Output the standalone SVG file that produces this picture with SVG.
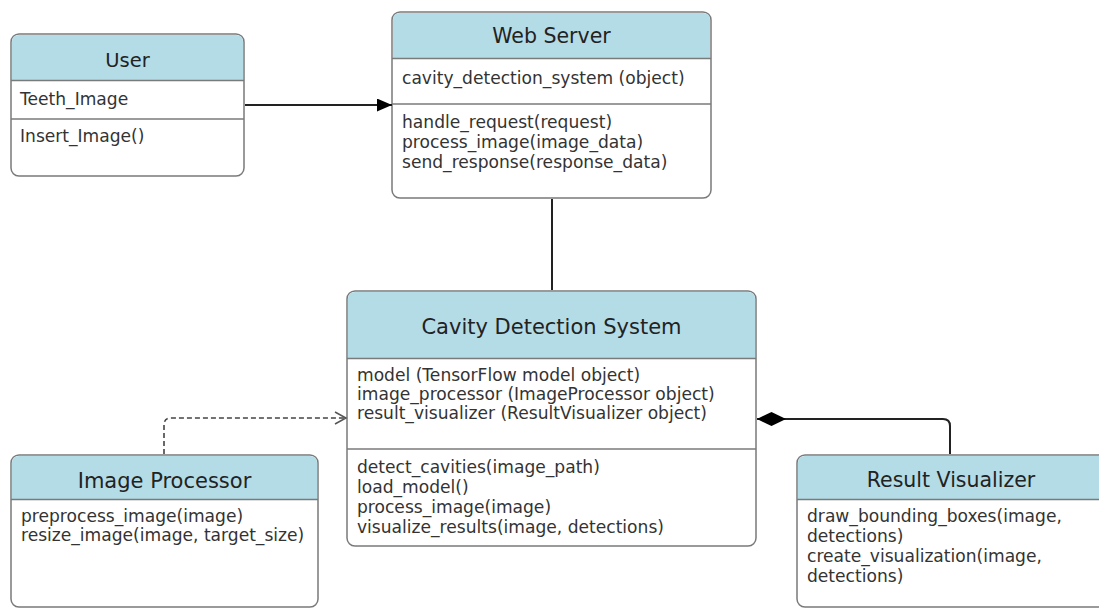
<svg xmlns="http://www.w3.org/2000/svg" width="1099" height="608" viewBox="0 0 1099 608">
<style>
.box{fill:#ffffff;stroke:#7a7a7a;stroke-width:1.5}
.hdr{fill:#b4dce7;stroke:none}
.sep{stroke:#7a7a7a;stroke-width:1.5}
.title{font-family:"DejaVu Sans",Verdana,sans-serif;font-size:20.5px;fill:#222;text-anchor:middle}
.txt{font-family:"DejaVu Sans",Verdana,sans-serif;font-size:17.1px;fill:#333}
.conn{fill:none;stroke:#222;stroke-width:2}
.dash{fill:none;stroke:#444;stroke-width:1.6;stroke-dasharray:5 3}
</style>
<defs>
<marker id="tri" markerWidth="16" markerHeight="13" refX="15" refY="6.5" orient="auto" markerUnits="userSpaceOnUse">
<path d="M0,0 L15,6.5 L0,13 Z" fill="#000"/>
</marker>
<marker id="open" markerWidth="14" markerHeight="14" refX="12" refY="7" orient="auto" markerUnits="userSpaceOnUse">
<path d="M1,1 L12,7 L1,13" fill="none" stroke="#555" stroke-width="1.5"/>
</marker>
<marker id="dia" markerWidth="30" markerHeight="16" refX="29" refY="7" orient="auto" markerUnits="userSpaceOnUse">
<path d="M0,7 L14.5,0 L29,7 L14.5,14 Z" fill="#000"/>
</marker>
</defs>
<rect width="1099" height="608" fill="#ffffff"/>

<g id="user">
<rect class="box" x="11" y="34" width="233" height="142" rx="8"/>
<path class="hdr" d="M12,80 L12,42 Q12,35 19,35 L236,35 Q243,35 243,42 L243,80 Z"/>
<line class="sep" x1="11" y1="80.5" x2="244" y2="80.5"/>
<line class="sep" x1="11" y1="119" x2="244" y2="119"/>
<text class="title" x="127.5" y="67" style="font-size:19.5px">User</text>
<text class="txt" x="20" y="105">Teeth_Image</text>
<text class="txt" x="20" y="142">Insert_Image()</text>
</g>

<g id="web-server">
<rect class="box" x="392" y="12" width="319" height="186" rx="8"/>
<path class="hdr" d="M393,58 L393,20 Q393,13 400,13 L703,13 Q710,13 710,20 L710,58 Z"/>
<line class="sep" x1="392" y1="58.5" x2="711" y2="58.5"/>
<line class="sep" x1="392" y1="104" x2="711" y2="104"/>
<text class="title" x="551.5" y="43">Web Server</text>
<text class="txt" x="402" y="84">cavity_detection_system (object)</text>
<text class="txt" x="402" y="128">handle_request(request)</text>
<text class="txt" x="402" y="148">process_image(image_data)</text>
<text class="txt" x="402" y="168">send_response(response_data)</text>
</g>

<g id="cavity-detection-system">
<rect class="box" x="347" y="291" width="409" height="255" rx="8"/>
<path class="hdr" d="M348,358 L348,299 Q348,292 355,292 L748,292 Q755,292 755,299 L755,358 Z"/>
<line class="sep" x1="347" y1="358.5" x2="756" y2="358.5"/>
<line class="sep" x1="347" y1="449" x2="756" y2="449"/>
<text class="title" x="551.5" y="334" style="font-size:21px">Cavity Detection System</text>
<text class="txt" x="357" y="381">model (TensorFlow model object)</text>
<text class="txt" x="357" y="400">image_processor (ImageProcessor object)</text>
<text class="txt" x="357" y="419">result_visualizer (ResultVisualizer object)</text>
<text class="txt" x="357" y="473">detect_cavities(image_path)</text>
<text class="txt" x="357" y="493">load_model()</text>
<text class="txt" x="357" y="513">process_image(image)</text>
<text class="txt" x="357" y="533">visualize_results(image, detections)</text>
</g>

<g id="image-processor">
<rect class="box" x="11" y="455" width="307" height="152" rx="8"/>
<path class="hdr" d="M12,499 L12,463 Q12,456 19,456 L310,456 Q317,456 317,463 L317,499 Z"/>
<line class="sep" x1="11" y1="499.5" x2="318" y2="499.5"/>
<text class="title" x="164.5" y="488" style="font-size:21px">Image Processor</text>
<text class="txt" x="21" y="522">preprocess_image(image)</text>
<text class="txt" x="21" y="541">resize_image(image, target_size)</text>
</g>

<g id="result-visualizer">
<rect class="box" x="797" y="455" width="310" height="152" rx="8"/>
<path class="hdr" d="M798,499 L798,463 Q798,456 805,456 L1106,456 L1106,499 Z"/>
<line class="sep" x1="797" y1="499.5" x2="1107" y2="499.5"/>
<text class="title" x="951" y="487">Result Visualizer</text>
<text class="txt" x="807" y="522">draw_bounding_boxes(image,</text>
<text class="txt" x="807" y="542">detections)</text>
<text class="txt" x="807" y="562">create_visualization(image,</text>
<text class="txt" x="807" y="582">detections)</text>
</g>

<g id="connectors">
<line class="conn" x1="245" y1="105" x2="392" y2="105" marker-end="url(#tri)"/>
<line class="conn" x1="552" y1="199" x2="552" y2="290"/>
<path class="dash" d="M164,454 L164,425 Q164,418 171,418 L346,418" marker-end="url(#open)"/>
<path class="conn" d="M950,454 L950,426 Q950,419 943,419 L757,419" marker-end="url(#dia)"/>
</g>
</svg>
